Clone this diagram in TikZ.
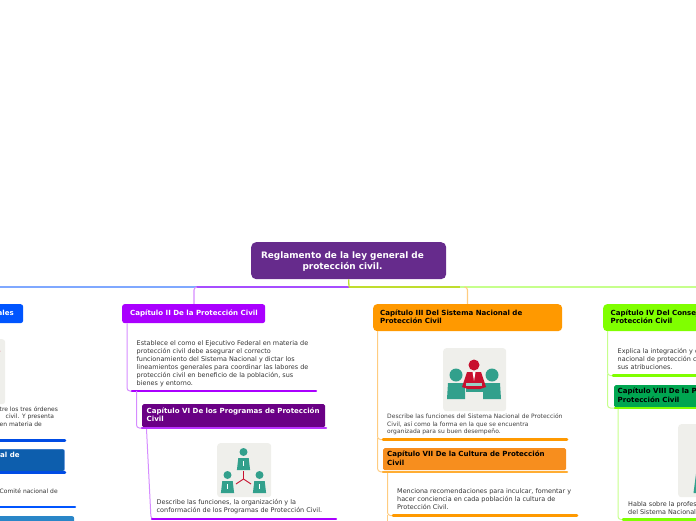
\documentclass[tikz,border=0pt]{standalone}
\usepackage{fontspec}
\setmainfont{DejaVu Sans}
\definecolor{cBlue}{HTML}{0055FF}
\definecolor{cBlueL}{HTML}{7FA8FF}
\definecolor{cPur}{HTML}{AA00FF}
\definecolor{cPurL}{HTML}{D58CFF}
\definecolor{cPurLine}{HTML}{A64DFF}
\definecolor{cOra}{HTML}{FF9900}
\definecolor{cOraL}{HTML}{FFCC80}
\definecolor{cGre}{HTML}{80FF00}
\definecolor{cGreL}{HTML}{C6FF8C}
\definecolor{cOlive}{HTML}{BFDD2E}
\definecolor{cTeal}{HTML}{32A08C}
\definecolor{cRed}{HTML}{C8102E}
\definecolor{cIcon}{HTML}{EFEFEB}
\definecolor{cRoot}{HTML}{662B8C}
\definecolor{cSixth}{HTML}{6A0085}
\definecolor{cFifth}{HTML}{0D5EAD}
\definecolor{cNinth}{HTML}{2A86C8}
\definecolor{cSeventh}{HTML}{F78E1E}
\definecolor{cEighth}{HTML}{00A651}
\tikzset{
  x=1pt,y=-1pt,
  box/.style={rounded corners=#1,inner sep=0pt,line width=0.3pt},
  box/.default=2.5pt,
  capt/.style={font=\fontsize{7.04}{8.6}\selectfont\bfseries,anchor=north west,align=left,inner sep=0pt},
  body/.style={font=\fontsize{6.45}{8}\selectfont,text=black!80,anchor=north west,align=left,inner sep=0pt},
  small/.style={font=\fontsize{6}{7.6}\selectfont,text=black!75,anchor=north west,align=left,inner sep=0pt},
  under/.style={line width=2.5pt,line cap=round},
  link/.style={line width=1pt,rounded corners=3pt},
  iconbox/.style={fill=cIcon,rounded corners=3pt,draw=none},
}
\newcommand{\figA}[2]{% cx, head y
  \begin{scope}[shift={(#1,#2)}]
    \fill[cTeal] (0,0) circle (4);
    \fill[cTeal] (-5.2,6) -- (5.2,6) -- (6.6,18) -- (-6.6,18) -- cycle;
    \fill[white] (-.5,9) rectangle (.5,14);
  \end{scope}}
\begin{document}
\begin{tikzpicture}
\useasboundingbox (0,0) rectangle (696,520);
\clip (0,0) rectangle (696,520);
% coordinates for junctions
\coordinate (jTop) at (349,287);
\coordinate (jLeft) at (-2,287);
\coordinate (jRight) at (698,287);
% main horizontal bus
\draw[line width=1.1pt,cBlueL] (jLeft) -- (196,287);
\draw[line width=1.1pt,cPurLine] (196,287) -- (jTop);
\draw[line width=1.1pt,cOlive] (jTop) -- (460,287);
\draw[line width=1.1pt,cGreL] (460,287) -- (jRight);

% ===== root =====
\node[box=5pt,fill=cRoot,minimum width=195pt,minimum height=37pt,anchor=north west] (root) at (251,242) {};
\node[font=\fontsize{8.9}{11}\selectfont\bfseries,text=white,align=center,inner sep=0pt] (rootT) at (342.5,261.5) {Reglamento de la ley general de\\protección civil.};
\draw[line width=1.3pt,cOlive] (root.south) -- (jTop);

% ===== Chapter I (clipped left) =====
\node[box,fill=cBlue,minimum width=60pt,minimum height=19pt,anchor=north west] (c1) at (-37,304) {};
\node[capt,text=white] (c1T) at (-2.5,310) {ales};
\node[iconbox,minimum width=15pt,minimum height=65pt,anchor=north west] (i1) at (-10,339) {};
\fill[cRed!60] (0,351) circle (.5);
\node[small,text=black!80] (c1B) at (-0.5,406) {tre los tres órdenes\\\hspace*{6pt}civil. Y presenta\\en materia de};
\draw[under,color=cBlue!90!black] (-4,440.5) coordinate (u1a) -- (65,440.5) coordinate (u1b);
\node[box=2pt,fill=cFifth,draw=cBlueL,minimum width=70pt,minimum height=22pt,anchor=north west] (c5) at (-5.5,449) {};
\node[capt,text=white] (c5T) at (0,452) {al de};
\draw[under,color=cBlue!90!black] (-4,472.5) coordinate (u5a) -- (65,472.5) coordinate (u5b);
\node[small,text=black!80] (c5B) at (-0.5,488.5) {Comité nacional de};
\draw[under,color=cBlue] (-4,507) coordinate (u6a) -- (75,507) coordinate (u6b);
\node[box=2pt,fill=cNinth,minimum width=80pt,minimum height=20pt,anchor=north west] (c9) at (-6,516) {};

% ===== Chapter II =====
\draw[line width=1.1pt,cPurL] (194,304) -- (194,290) arc[start angle=180,end angle=270,radius=3];
\node[box,fill=cPur,minimum width=143pt,minimum height=19pt,anchor=north west] (c2) at (122,304) {};
\node[capt,text=white] (c2T) at (130,309.5) {Capítulo II De la Protección Civil};
\node[body] (c2B) at (136.5,340) {Establece el como el Ejecutivo Federal en materia de\\protección civil debe asegurar el correcto\\funcionamiento del Sistema Nacional y dictar los\\lineamientos generales para coordinar las labores de\\protección civil en beneficio de la población, sus\\bienes y entorno.};
\coordinate (u2a) at (132,391);
\coordinate (u2b) at (316,391);
\draw[link,cPurL] (c2.south west -| 127,323) -- (127,391) -- (u2a);
\draw[under,cPur] (u2a) -- (u2b);
\coordinate (u3a) at (142,428);
\coordinate (u3b) at (326,428);
\draw[link,cPurL] (136.5,391) -- (136.5,428) -- (u3a);
\node[box=1.5pt,fill=cSixth,minimum width=183pt,minimum height=23pt,anchor=north west] (c6) at (142,404) {};
\node[capt,text=white] (c6T) at (146.5,407.5) {Capítulo VI De los Programas de Protección\\Civil};
\draw[under,cPur!80!white] (u3a) -- (u3b);
\node[iconbox,minimum width=54pt,minimum height=54pt,anchor=north west] (i6) at (217,443) {};
\figA{243.5}{452}
\figA{227.5}{475}
\figA{259.5}{475}
\draw[cRed,line width=.9pt] (243.5,471) -- (243.5,479) -- (236,484) (243.5,479) -- (251,484);
\node[body] (c6B) at (156.5,499) {Describe las funciones, la organización y la\\conformación de los Programas de Protección Civil.};
\coordinate (u4a) at (152,519);
\coordinate (u4b) at (336,519);
\draw[link,cPurL] (146.5,429) -- (151,519) -- (u4a);
\draw[under,cPur] (u4a) -- (u4b);

% ===== Chapter III =====
\draw[line width=1.1pt,cOraL] (467.5,304) -- (467.5,290) arc[start angle=0,end angle=-90,radius=3];
\node[box=4pt,fill=cOra,minimum width=189pt,minimum height=27pt,anchor=north west] (c3) at (373,304) {};
\node[capt,text=black] (c3T) at (380,309.5) {Capítulo III Del Sistema Nacional de\\Protección Civil};
\node[iconbox,minimum width=63pt,minimum height=63pt,anchor=north west] (i3) at (443,348) {};
\fill[cTeal] (456,375) circle (6.5) (492,375) circle (6.5);
\fill[cTeal] (448,383) -- (465,383) -- (465,399) -- (447,399) -- cycle;
\fill[cTeal] (483,383) -- (500,383) -- (501,399) -- (483,399) -- cycle;
\fill[cTeal] (466,382) rectangle (483,392);
\fill[cRed] (474,365) circle (5.5);
\fill[cRed] (467,372) -- (481,372) -- (486,387) -- (480,389) -- (468,389) -- (462,387) -- cycle;
\fill[white] (472.5,372) -- (475.5,372) -- (474,381) -- cycle;
\fill[cTeal!50] (466,383) rectangle (482,385.5);
\node[small] (c3B) at (387,413.5) {Describe las funciones del Sistema Nacional de Protección\\Civil, así como la forma en la que se encuentra\\organizada para su buen desempeño.};
\coordinate (u7a) at (383,439.5);
\coordinate (u7b) at (567,439.5);
\draw[link,cOraL] (377.5,331) -- (377.5,439.5) -- (u7a);
\draw[under,cOra] (u7a) -- (u7b);
\coordinate (u8a) at (383,472);
\coordinate (u8b) at (567,472);
\draw[link,cOraL] (377.5,438) -- (377.5,471.5) -- (u8a);
\node[box=1.5pt,fill=cSeventh,minimum width=183pt,minimum height=22pt,anchor=north west] (c7) at (383,448) {};
\node[capt,text=black] (c7T) at (387,451) {Capítulo VII De la Cultura de Protección\\Civil};
\draw[under,cOra!80!white] (u8a) -- (u8b);
\node[body] (c7B) at (397,488) {Menciona recomendaciones para inculcar, fomentar y\\hacer conciencia en cada población la cultura de\\Protección Civil.};
\coordinate (u9a) at (393,515.5);
\coordinate (u9b) at (577,515.5);
\draw[link,cOraL] (387.5,473) -- (387.5,515.5) -- (u9a);
\draw[line width=1pt,cOraL] (387.5,515) -- (387.5,522);
\draw[under,cOra] (u9a) -- (u9b);

% ===== Chapter IV =====
\node[box=4pt,fill=cGre,minimum width=120pt,minimum height=27pt,anchor=north west] (c4) at (603,304) {};
\node[capt,text=black] (c4T) at (610.5,309.5) {Capítulo IV Del Consejo Nacional de\\Protección Civil};
\node[body] (c4B) at (617.5,348) {Explica la integración y del Consejo\\nacional de protección civil y\\sus atribuciones.};
\coordinate (u10a) at (613,375.5);
\coordinate (u10b) at (700,375.5);
\draw[link,cGreL] (607.5,331) -- (607.5,375.5) -- (u10a);
\draw[under,cGre] (u10a) -- (u10b);
\coordinate (u11a) at (615,408);
\coordinate (u11b) at (700,408);
\draw[link,cGreL] (607.5,374) -- (607.5,408) -- (u11a);
\node[box=1.5pt,fill=cEighth,minimum width=120pt,minimum height=22pt,anchor=north west] (c8) at (614,385) {};
\node[capt,text=black] (c8T) at (617.5,388) {Capítulo VIII De la Profesionalización de la\\Protección Civil};
\draw[under,cGre] (u11a) -- (u11b);
\node[iconbox,minimum width=40pt,minimum height=73pt,anchor=north west] (i8) at (678,424) {};
\fill[cTeal] (693.5,493) -- (696.5,470) -- (696.5,493) -- cycle;
\node[body] (c8B) at (628,501) {Habla sobre la profesionalización\\del Sistema Nacional de Protección};
\coordinate (u12a) at (623,519.5);
\coordinate (u12b) at (700,519.5);
\draw[link,cGreL] (618,409) -- (618,519.5) -- (u12a);
\draw[under,cGre] (u12a) -- (u12b);
\end{tikzpicture}
\end{document}
